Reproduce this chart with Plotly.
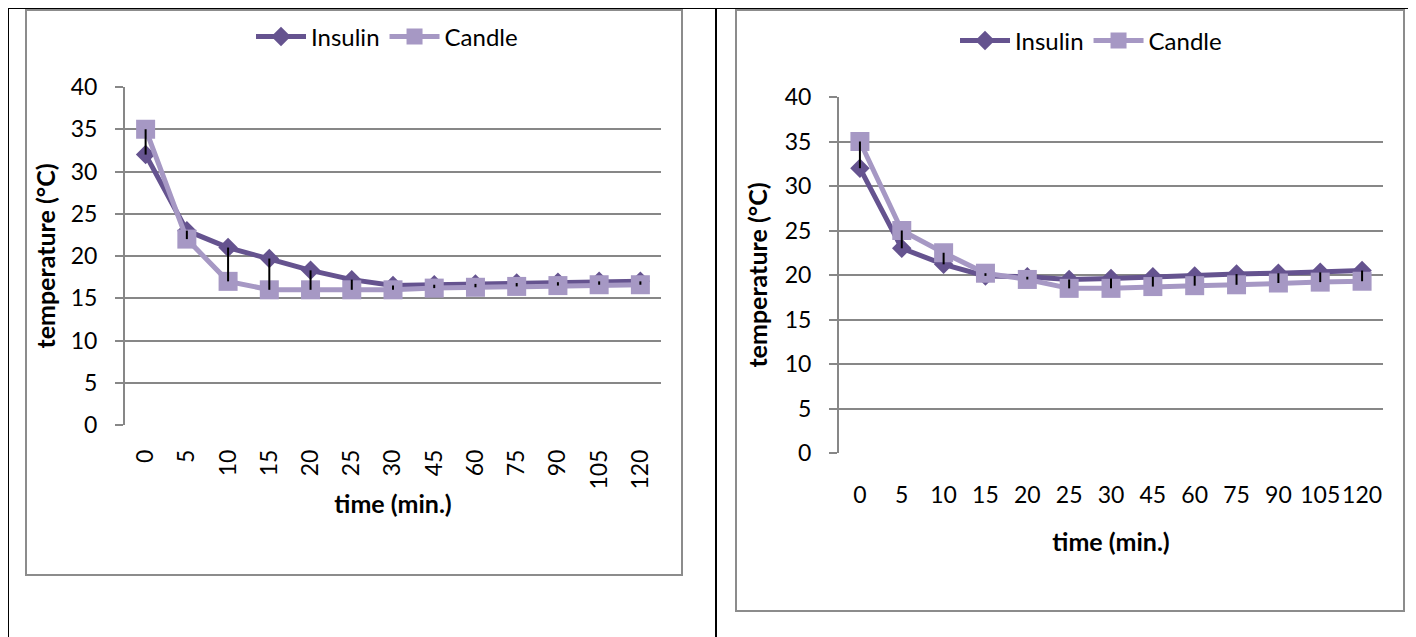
import plotly.graph_objects as go

categories = ["0", "5", "10", "15", "20", "25", "30", "45", "60", "75", "90", "105", "120"]

left_insulin = [32, 23, 21, 19.7, 18.3, 17.2, 16.5, 16.6, 16.7, 16.8, 16.9, 17.0, 17.0]
left_candle = [35, 22, 17, 16, 16, 16, 16, 16.2, 16.3, 16.4, 16.5, 16.6, 16.6]

right_insulin = [32, 23, 21.2, 19.9, 19.8, 19.5, 19.6, 19.8, 19.9, 20.1, 20.2, 20.3, 20.5]
right_candle = [35, 25, 22.5, 20.2, 19.5, 18.5, 18.5, 18.7, 18.8, 18.9, 19.1, 19.2, 19.3]

# page body has an 8px margin; figure is sized to fill the rest of the window
OFF = 8
W, H = 1416 - OFF, 637 - OFF
FONT = "Lato"
INS_COLOR = "#65538F"
CAN_COLOR = "#A698C4"
GRID = "#878787"


def px(x):
    return (x - OFF) / W


def py(y):
    return 1 - (y - OFF) / H


fig = go.Figure()


def add_chart(ins, can, xa, ya, legend):
    fig.add_trace(go.Scatter(
        x=categories, y=ins, name="Insulin", mode="lines+markers",
        line=dict(color=INS_COLOR, width=5),
        marker=dict(symbol="diamond", size=15, color=INS_COLOR),
        xaxis=xa, yaxis=ya, legend=legend))
    fig.add_trace(go.Scatter(
        x=categories, y=can, name="Candle", mode="lines+markers",
        line=dict(color=CAN_COLOR, width=5),
        marker=dict(symbol="square", size=19, color=CAN_COLOR),
        xaxis=xa, yaxis=ya, legend=legend))
    lows = [min(a, b) for a, b in zip(ins, can)]
    spans = [abs(a - b) for a, b in zip(ins, can)]
    fig.add_trace(go.Scatter(
        x=categories, y=lows, mode="markers", showlegend=False,
        marker=dict(size=1, color="rgba(0,0,0,0)"),
        error_y=dict(type="data", symmetric=False, array=spans,
                     arrayminus=[0] * len(spans), color="black",
                     thickness=2, width=0),
        hoverinfo="skip", xaxis=xa, yaxis=ya))


add_chart(left_insulin, left_candle, "x", "y", "legend")
add_chart(right_insulin, right_candle, "x2", "y2", "legend2")

axis_font = dict(family=FONT, size=23, color="black")
title_font = dict(family=FONT, size=25, color="black", weight="bold")

common_y = dict(range=[0, 40], dtick=5, showgrid=True, gridcolor=GRID, gridwidth=2,
                showline=True, linecolor=GRID, linewidth=2, ticks="outside",
                ticklen=8, tickcolor=GRID, tickwidth=2, tickfont=axis_font,
                ticklabelstandoff=13, zeroline=False, fixedrange=True)
common_x = dict(type="category", range=[-0.5, 12.5], showgrid=False, showline=False,
                ticks="", tickfont=axis_font, zeroline=False, fixedrange=True)

fig.update_layout(
    width=W, height=H, margin=dict(l=0, r=0, t=0, b=0, autoexpand=False),
    paper_bgcolor="white", plot_bgcolor="white",
    font=dict(family=FONT, color="black"),
    xaxis=dict(common_x, domain=[px(125), px(661)], anchor="y", tickangle=-90,
               ticklabelstandoff=19, automargin=False,
               title=dict(text="time (min.)", font=title_font, standoff=6)),
    yaxis=dict(common_y, domain=[py(425), py(87)], anchor="x", automargin=False,
               title=dict(text="temperature (°C)", font=title_font, standoff=8)),
    xaxis2=dict(common_x, domain=[px(839), px(1383)], anchor="y2", tickangle=0,
                ticklabelstandoff=26, automargin=False,
                title=dict(text="time (min.)", font=title_font, standoff=26)),
    yaxis2=dict(common_y, domain=[py(453), py(97)], anchor="x2", automargin=False,
                title=dict(text="temperature (°C)", font=title_font, standoff=10)),
    legend=dict(orientation="h", x=px(387), y=py(37), xanchor="center", yanchor="middle",
                font=dict(family=FONT, size=24, color="black"), itemwidth=50,
                bgcolor="rgba(0,0,0,0)"),
    legend2=dict(orientation="h", x=px(1091), y=py(41), xanchor="center", yanchor="middle",
                 font=dict(family=FONT, size=24, color="black"), itemwidth=50,
                 bgcolor="rgba(0,0,0,0)"),
    showlegend=True,
)

shapes = []
# table borders
shapes.append(dict(type="line", x0=px(7), x1=1, y0=py(8), y1=py(8), line=dict(color="black", width=2)))
shapes.append(dict(type="line", x0=px(8), x1=px(8), y0=py(8), y1=0, line=dict(color="black", width=2)))
shapes.append(dict(type="line", x0=px(716), x1=px(716), y0=py(8), y1=0, line=dict(color="black", width=2)))
# chart frames
shapes.append(dict(type="rect", x0=px(26), x1=px(682), y0=py(575), y1=py(10), line=dict(color="#8C8C8C", width=2)))
shapes.append(dict(type="rect", x0=px(736), x1=px(1404), y0=py(611), y1=py(10), line=dict(color="#8C8C8C", width=2)))
for s in shapes:
    s["xref"] = "paper"
    s["yref"] = "paper"
    s["layer"] = "below"
fig.update_layout(shapes=shapes)

fig.write_html("out.html")
